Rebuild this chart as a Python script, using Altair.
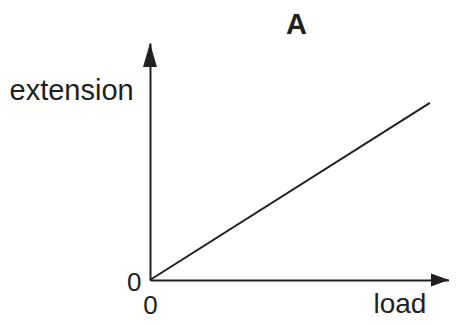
import altair as alt
import pandas as pd

# data (arbitrary units, axes run 0..10)
load = [0, 9.36]
extension = [0, 7.47]
axis_end = [10]
tick_values = [0]
panel_label = ["A"]

INK = "#231f20"
FONT = "Liberation Sans"

W, H = 441, 310          # plot area in px (fills the page)
X0, Y0 = 142, 272        # origin position inside the plot area
XT, YT = 441, 35         # arrow tips

xscale = alt.Scale(domain=[0, axis_end[0]], range=[X0, XT])
yscale = alt.Scale(domain=[0, axis_end[0]], range=[Y0, YT])

line_df = pd.DataFrame({"load": load, "extension": extension})

xaxis = alt.Axis(
    orient="bottom", offset=Y0 - H, values=tick_values, ticks=False, grid=False,
    domainColor=INK, domainWidth=2, domainCap="butt",
    labelFont=FONT, labelFontSize=26, labelColor=INK, labelPadding=12,
    labelFlush=False, labelOverlap=False,
    title="load", titleFont=FONT, titleFontSize=28, titleFontWeight="normal",
    titleColor=INK, titleX=365, titleY=32, titleAlign="left",
    titleBaseline="alphabetic", titleAngle=0,
)
yaxis = alt.Axis(
    orient="left", offset=-X0, values=tick_values, ticks=False, grid=False,
    domainColor=INK, domainWidth=2, domainCap="butt",
    labelFont=FONT, labelFontSize=26, labelColor=INK, labelPadding=9,
    labelBaseline="middle", labelOffset=2, labelFlush=False, labelOverlap=False,
    title="extension", titleFont=FONT, titleFontSize=29, titleFontWeight="normal",
    titleColor=INK, titleX=1 - X0, titleY=91, titleAlign="left",
    titleBaseline="alphabetic", titleAngle=0,
)

line = alt.Chart(line_df).mark_line(color=INK, strokeWidth=2, clip=False).encode(
    x=alt.X("load:Q", scale=xscale, axis=xaxis),
    y=alt.Y("extension:Q", scale=yscale, axis=yaxis),
)

xarrow_df = pd.DataFrame({"load": axis_end, "extension": [0]})
yarrow_df = pd.DataFrame({"load": [0], "extension": axis_end})

xarrow = alt.Chart(xarrow_df).mark_point(
    shape="M0,0L-2,-0.72L-2,0.72Z", filled=True, color=INK, opacity=1, size=324, clip=False
).encode(x=alt.X("load:Q", scale=xscale), y=alt.Y("extension:Q", scale=yscale))

yarrow = alt.Chart(yarrow_df).mark_point(
    shape="M0,0L0.58,2L-0.58,2Z", filled=True, color=INK, opacity=1, size=576, clip=False
).encode(x=alt.X("load:Q", scale=xscale), y=alt.Y("extension:Q", scale=yscale))

# panel label "A" above the plot, placed through the same scales
label_df = pd.DataFrame({"label": panel_label, "load": [4.9], "extension": [10.38]})
label = alt.Chart(label_df).mark_text(
    font=FONT, fontSize=29, fontWeight="bold", color=INK,
    align="center", baseline="alphabetic", clip=False,
).encode(
    x=alt.X("load:Q", scale=xscale), y=alt.Y("extension:Q", scale=yscale), text="label:N"
)

chart = alt.layer(line, xarrow, yarrow, label).properties(
    width=W, height=H,
    autosize=alt.AutoSizeParams(type="none"),
    padding=0,
    background="white",
).configure_view(stroke=None)

chart.save("out.html", embed_options={"renderer": "svg", "actions": False})
